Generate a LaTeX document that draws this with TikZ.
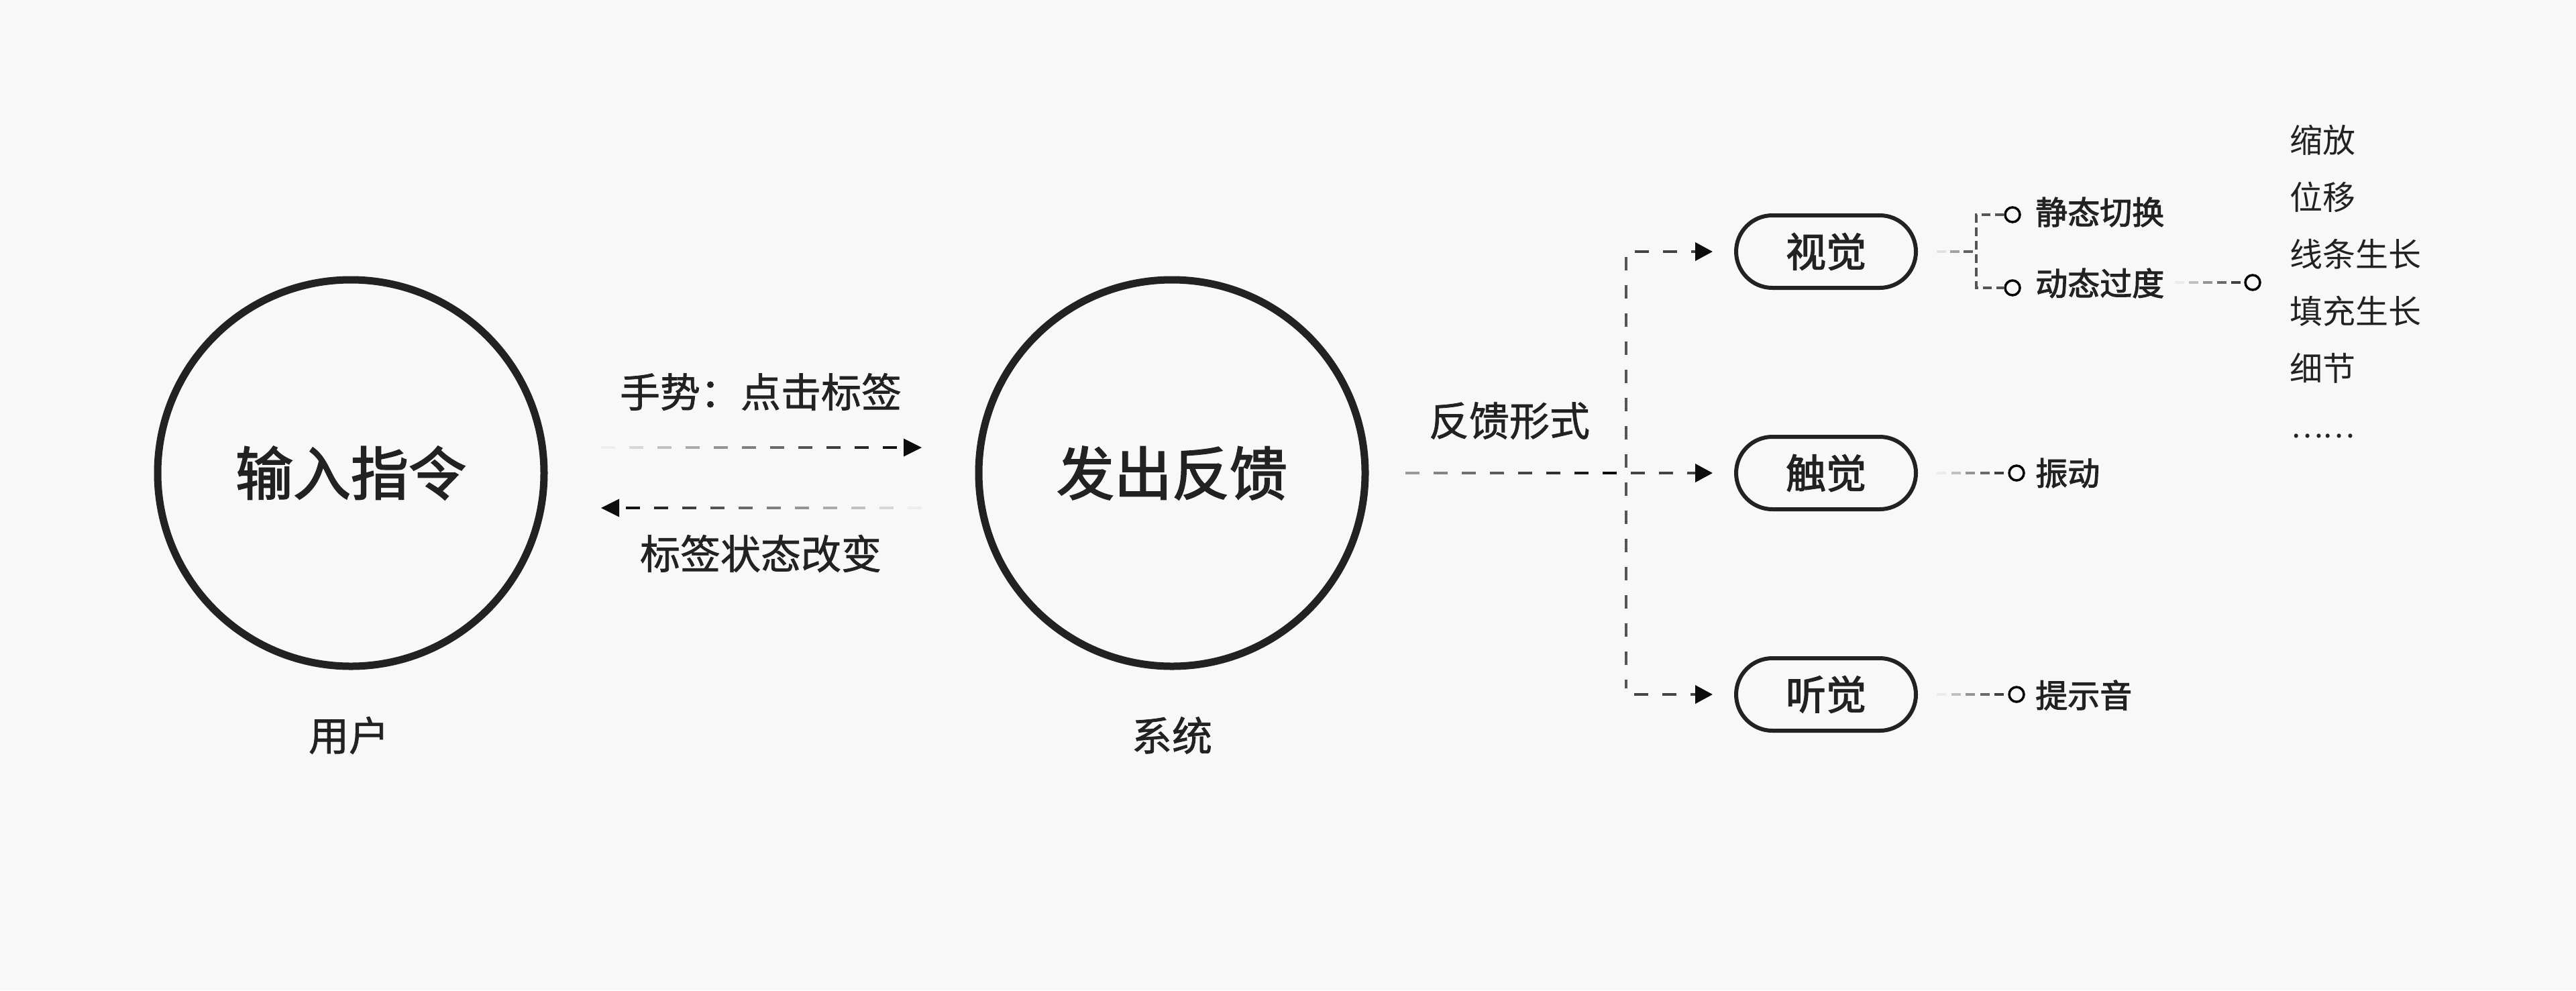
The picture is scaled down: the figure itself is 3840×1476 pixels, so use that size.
\documentclass[tikz,border=0pt]{standalone}
\usepackage{fontspec}
\usetikzlibrary{arrows.meta,calc}
\newfontfamily\cjk{Noto Sans CJK SC}
\newfontfamily\cjkmed{Noto Sans CJK SC}[FakeBold=1.2]
\newfontfamily\cjkbig{Noto Sans CJK SC}[FakeBold=2.2]
\definecolor{ink}{HTML}{222222}
\definecolor{bg}{HTML}{F8F8F8}
\definecolor{branch}{HTML}{444444}
\definecolor{brk}{HTML}{555555}
% gradient dashed line: #1 from, #2 toward, #3 last index, #4 period, #5 dash, #6 start black%, #7 end black%, #8 width
\newcommand\gradline[8]{%
  \foreach \gk in {0,...,#3}{%
    \pgfmathsetmacro\gsa{\gk*#4}%
    \pgfmathsetmacro\gsb{\gk*#4+#5}%
    \pgfmathsetmacro\gpc{#6+(#7-#6)*\gk/#3}%
    \draw[line width=#8pt, draw=black!\gpc] ($(#1)!\gsa pt!(#2)$) -- ($(#1)!\gsb pt!(#2)$);
  }}
\begin{document}
\begin{tikzpicture}[x=1pt,y=-1pt,
  bigc/.style={circle, draw=ink, line width=11pt, minimum size=576pt, inner sep=0pt, text=ink,
    font=\cjkbig\fontsize{86pt}{86pt}\selectfont},
  pill/.style={draw=ink, line width=6pt, rounded corners=54pt, minimum width=268pt, minimum height=108pt,
    inner sep=0pt, text=ink, font=\cjkbig\fontsize{60pt}{60pt}\selectfont},
  lab/.style={inner sep=0pt, text=ink, font=\cjkmed\fontsize{60pt}{60pt}\selectfont},
  sublab/.style={inner sep=0pt, anchor=west, text=ink, font=\cjkbig\fontsize{48pt}{48pt}\selectfont},
  item/.style={inner sep=0pt, anchor=west, text=ink, font=\cjk\fontsize{49pt}{49pt}\selectfont},
  dot/.style={circle, draw=black, line width=3.5pt, minimum size=22pt, inner sep=0pt},
  br/.style={draw=branch, line width=4pt, dash pattern=on 21pt off 21pt, -{Triangle[length=26pt,width=27pt,color=black!95]}},
  vl/.style={draw=brk, line width=3.5pt, dash pattern=on 20pt off 22pt},
  bk/.style={draw=brk, line width=3.5pt, dash pattern=on 13pt off 7pt},
  tipc/.style={fill=black!95}
]
\useasboundingbox (0,0) rectangle (3840,1476);
\fill[bg] (0,0) rectangle (3840,1476);

% main circles
\node[bigc] (c1) at (523,705) {输入指令};
\node[bigc] (c2) at (1747,705) {发出反馈};
\node[lab] (u) at (520,1096) {用户};
\node[lab] (s) at (1747,1096) {系统};

% arrows between circles
\node[lab] (g) at (1134,584) {手势：点击标签};
\node[lab] (r) at (1134,825) {标签状态改变};
\coordinate (a1s) at (896,667);
\coordinate (a1e) at (1347,667);
\coordinate (a1t) at (1374,667);
\coordinate (a2t) at (896,757);
\coordinate (a2s) at (933,757);
\coordinate (a2e) at (1374,757);
\gradline{a1s}{a1e}{10}{42}{21}{7}{93}{4}
\fill[tipc] (a1t) -- ++(-27,-13.5) -- ++(0,27) -- cycle;
\gradline{a2s}{a2e}{10}{42}{21}{93}{7}{4}
\fill[tipc] (a2t) -- ++(27,-13.5) -- ++(0,27) -- cycle;

% feedback forms
\node[lab] (ff) at (2250,627) {反馈形式};
\node[pill] (v) at (2722,375) {视觉};
\node[pill] (t) at (2722,705) {触觉};
\node[pill] (h) at (2722,1035) {听觉};

\coordinate (ms) at (2095,705);
\coordinate (me) at (2424,705);
\gradline{ms}{me}{7}{42}{21}{40}{97}{4}
\coordinate (vt) at (2424,383);
\coordinate (vb) at (2424,1026);
\draw[vl] (vt) -- (vb);
\coordinate (b1) at (2437,375);
\coordinate (b2) at (2431,705);
\coordinate (b3) at (2436,1035);
\draw[br] (b1) -- ($(v.west)+(-32,0)$);
\draw[br] (b2) -- ($(t.west)+(-32,0)$);
\draw[br] (b3) -- ($(h.west)+(-32,0)$);

% visual sub-branches
\node[dot] (d1) at (3000,320) {};
\node[dot] (d2) at (3000,429) {};
\node[sublab] (l1) at (3034,316) {静态切换};
\node[sublab] (l2) at (3034,422) {动态过度};
\coordinate (p1s) at (2887,375);
\coordinate (p1e) at (2946,375);
\gradline{p1s}{p1e}{2}{20}{14}{12}{62}{3.5}
\coordinate (bt) at (2946,320);
\coordinate (bb) at (2946,429);
\draw[bk] (d1.west) -- (bt) -- (bb) -- (d2.west);

\node[dot] (d3) at (3358,421) {};
\coordinate (q1s) at (3242,421);
\gradline{q1s}{d3}{4}{21}{14}{8}{75}{3.5}

\node[item] (i1) at (3413,209) {缩放};
\node[item] (i2) at (3413,294) {位移};
\node[item] (i3) at (3413,379) {线条生长};
\node[item] (i4) at (3413,464) {填充生长};
\node[item] (i5) at (3413,549) {细节};
\node[item, anchor=base west, font=\cjk\fontsize{45pt}{45pt}\selectfont] (i6) at (3415,652) {……};

% touch / hearing
\node[dot] (d4) at (3006,705) {};
\node[dot] (d5) at (3006,1035) {};
\node[sublab] (l3) at (3034,705) {振动};
\node[sublab] (l4) at (3034,1036) {提示音};
\coordinate (p2s) at (2887,705);
\coordinate (p3s) at (2887,1035);
\gradline{p2s}{d4}{4}{21.5}{14}{8}{75}{3.5}
\gradline{p3s}{d5}{4}{21.5}{14}{8}{75}{3.5}
\end{tikzpicture}
\end{document}
